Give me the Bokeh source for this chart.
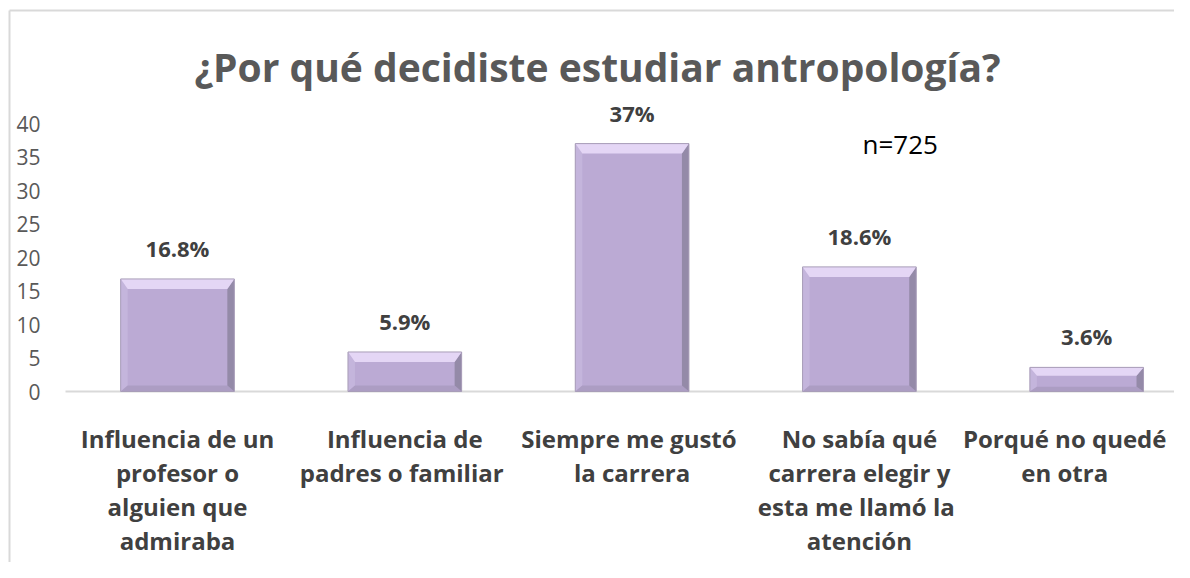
from bokeh.plotting import figure
from bokeh.models import Range1d
from bokeh.core.properties import value
from bokeh.embed import file_html
from bokeh.resources import INLINE

# ---- data ----
categories = [
    "Influencia de un\nprofesor o\nalguien que\nadmiraba",
    "Influencia de\npadres  o familiar",
    "Siempre  me gustó\nla carrera",
    "No sabía qué\ncarrera elegir y\nesta  me llamó la\natención",
    "Porqué no quedé\nen otra",
]
values = [16.8, 5.9, 37.0, 18.6, 3.6]
value_labels = ["16.8%", "5.9%", "37%", "18.6%", "3.6%"]
y_ticks = [0, 5, 10, 15, 20, 25, 30, 35, 40]
title_text = "¿Por qué decidiste estudiar antropología?"
note_text = "n=725"

# ---- layout helpers ----
W, H = 1174, 562
PX = 227.3   # pixels per category
PY = 6.7     # pixels per unit
X0_PAGE, Y0_PAGE = 177.0, 391.0   # picture position of category 0 / value 0
def xd(page_x):
    return (page_x - X0_PAGE) / PX
def yd(page_y):
    return (Y0_PAGE - page_y) / PY

x_start, x_end = xd(0), xd(W)
y_end, y_start = yd(0), yd(H)

p = figure(width=W, height=H, output_backend="svg", toolbar_location=None,
           x_range=Range1d(x_start, x_end), y_range=Range1d(y_start, y_end),
           min_border=0, min_border_left=0, min_border_right=0,
           min_border_top=0, min_border_bottom=0)
p.axis.visible = False
p.grid.visible = False
p.outline_line_color = None
p.background_fill_color = "white"
p.border_fill_color = "white"

# chart border (left and top)
p.segment(x0=[xd(9), xd(9)], y0=[y_start, yd(10)], x1=[xd(9), x_end], y1=[yd(10), yd(10)],
          line_color="#D9D9D9", line_width=2)

# x axis line
p.segment(x0=[xd(65)], y0=[0], x1=[x_end], y1=[0], line_color="#D9D9D9", line_width=2)

xs = list(range(len(values)))
hw = 0.25

# bars: base face
p.quad(left=[x - hw for x in xs], right=[x + hw for x in xs], bottom=0, top=values,
       fill_color="#BBAAD4", line_color=None)

# bevels
bx_side = 7 / PX
by_top = 10 / PY
by_bot = 6 / PY
top_xs, top_ys, right_xs, right_ys, bot_xs, bot_ys, left_xs, left_ys = [], [], [], [], [], [], [], []
for x, v in zip(xs, values):
    l, r = x - hw, x + hw
    bt = min(by_top, v * 0.35)
    bb = min(by_bot, v * 0.2)
    top_xs.append([l, r, r - bx_side, l + bx_side]); top_ys.append([v, v, v - bt, v - bt])
    right_xs.append([r, r, r - bx_side, r - bx_side]); right_ys.append([v, 0, bb, v - bt])
    bot_xs.append([l, r, r - bx_side, l + bx_side]); bot_ys.append([0, 0, bb, bb])
    left_xs.append([l, l, l + bx_side, l + bx_side]); left_ys.append([v, 0, bb, v - bt])
p.patches(left_xs, left_ys, fill_color="#C4B5DC", line_color=None)
p.patches(bot_xs, bot_ys, fill_color="#AC9DC3", line_color=None)
p.patches(right_xs, right_ys, fill_color="#948AA8", line_color=None)
p.patches(top_xs, top_ys, fill_color="#E4D6F5", line_color=None)
p.quad(left=[x - hw for x in xs], right=[x + hw for x in xs], bottom=0, top=values,
       fill_color=None, line_color="#A89DB8", line_width=1)

# y tick labels
p.text(x=[xd(40)] * len(y_ticks), y=y_ticks, text=[str(t) for t in y_ticks],
       text_align="right", text_baseline="middle", text_font=value("Open Sans"),
       text_font_size="21px", text_color="#595959")

# value labels
p.text(x=xs, y=values, text=value_labels, y_offset=-31, text_align="center",
       text_baseline="alphabetic", text_font=value("Open Sans"), text_font_style="bold",
       text_font_size="22px", text_color="#404040")

# category labels, line by line
label_shift_px = [0, 0, 0, 0, -22]
lx, ly, lt, lo, lxo = [], [], [], [], []
for x, c, s in zip(xs, categories, label_shift_px):
    for k, line in enumerate(c.split("\n")):
        lx.append(x); ly.append(0); lt.append(line); lo.append(47 + 34 * k); lxo.append(s)
p.text(x=lx, y=ly, text=lt, x_offset=lxo, y_offset=lo, text_align="center",
       text_baseline="alphabetic", text_font=value("Open Sans"), text_font_style="bold",
       text_font_size="24px", text_color="#404040")

# title
p.text(x=[xd(597)], y=[yd(66)], text=[title_text], text_align="center",
       text_baseline="alphabetic", text_font=value("Open Sans"), text_font_style="bold",
       text_font_size="39px", text_color="#595959")

# note
p.text(x=[xd(862)], y=[yd(143)], text=[note_text], text_align="left",
       text_baseline="alphabetic", text_font=value("Open Sans"),
       text_font_size="26px", text_color="#000000")

open("out.html", "w").write(file_html(p, INLINE))
